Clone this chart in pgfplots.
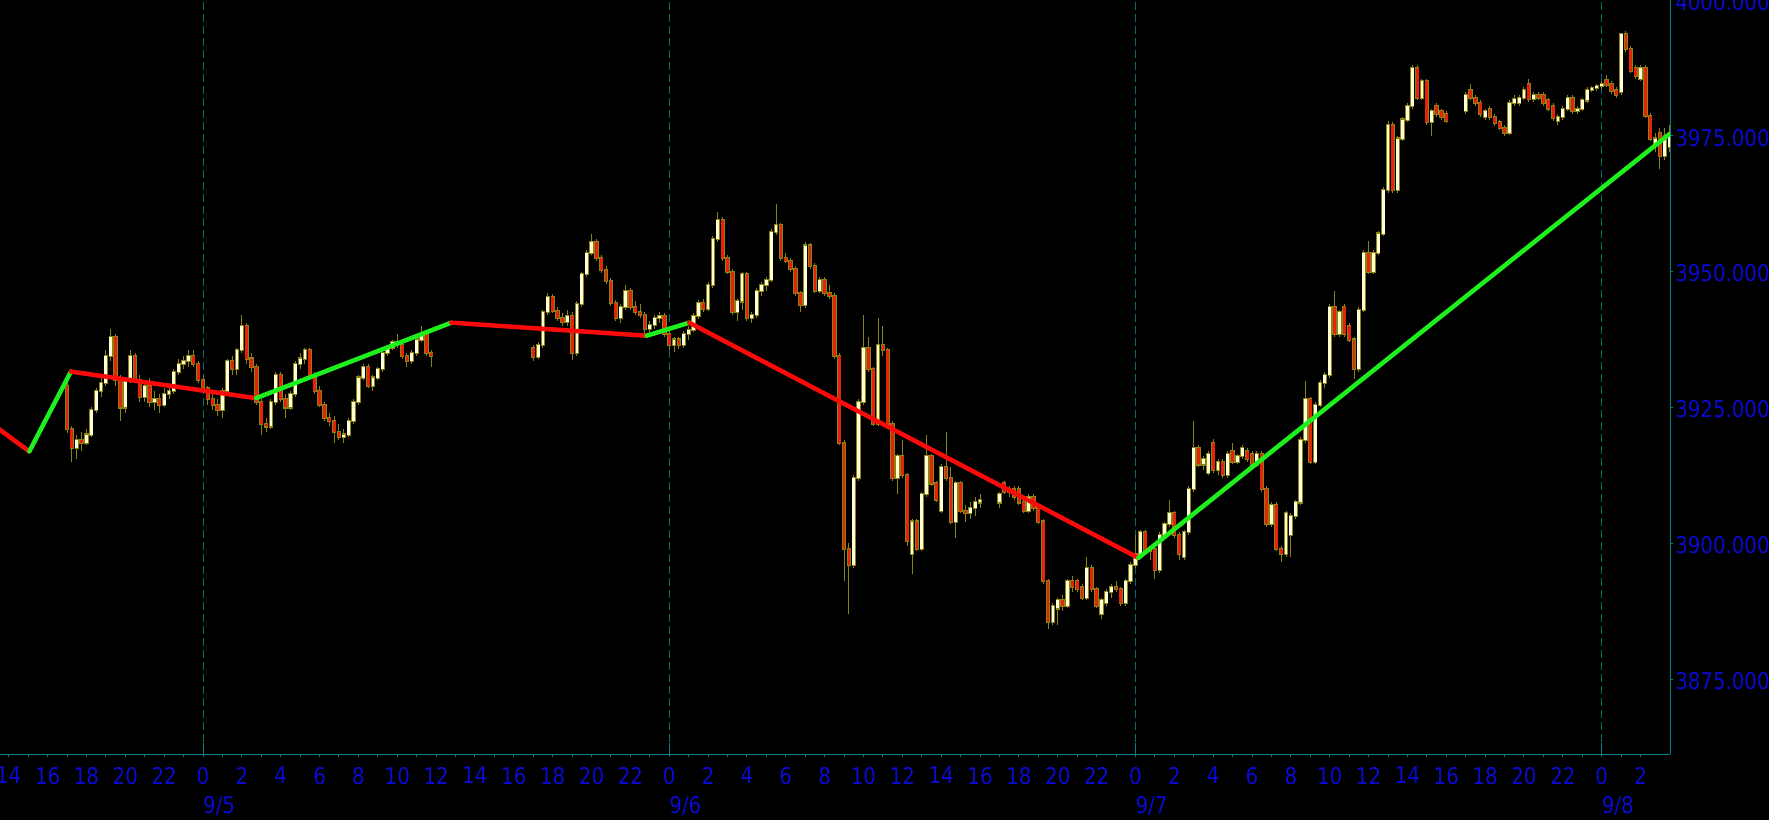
\documentclass[border=0pt]{standalone}
\usepackage{fontspec}
\usepackage{pgfplots}
\usepackage{pgfplotstable}
\pgfplotsset{compat=1.18}
\newfontfamily\lab[FakeStretch=0.86]{DejaVu Sans}
\newcommand\labfont{\lab\fontsize{23pt}{23pt}\selectfont}
\definecolor{labblue}{RGB}{10,10,210}
\definecolor{axteal}{RGB}{0,128,128}
\definecolor{gridteal}{RGB}{0,110,110}
\definecolor{wickol}{RGB}{140,130,20}
\definecolor{upfill}{RGB}{255,255,215}
\definecolor{dnfill}{RGB}{228,35,10}
\definecolor{zzred}{RGB}{250,10,10}
\definecolor{zzgreen}{RGB}{30,240,30}

\pgfplotstableread{
t o h l c
-7 3929 3929.8 3920.3 3921
-6.75 3921 3921.5 3915 3917.5
-6.5 3917.5 3920 3915.5 3919
-6.25 3919 3920.5 3917 3918.5
-6 3918.5 3921 3918 3920
-5.75 3920 3925 3919.5 3924.5
-5.5 3924.5 3928.5 3924 3928
-5.25 3928 3930.5 3927 3929.5
-5 3929.5 3935.5 3929 3934.5
-4.75 3934.5 3939.5 3933.5 3938
-4.5 3938 3938.5 3929 3930
-4.25 3930 3931 3922.5 3925
-4 3925 3930.5 3924 3930
-3.75 3930 3935.5 3929.5 3934.5
-3.5 3934.5 3935 3929.5 3930
-3.25 3930 3931 3926 3927
-3 3927 3930 3926 3929
-2.75 3929 3930.5 3925 3926
-2.5 3926 3928 3924.5 3926.5
-2.25 3926.5 3927.5 3924 3925.5
-2 3925.5 3928.5 3925 3927.5
-1.75 3927.5 3929.5 3926.5 3928
-1.5 3928 3932 3927.5 3931.5
-1.25 3931.5 3934 3931 3933
-1 3933 3934.5 3932 3933.5
-0.75 3933.5 3935.5 3932.5 3934.5
-0.5 3934.5 3935.5 3932.5 3933
-0.25 3933 3933.5 3929.5 3930
0 3930 3931 3928 3928.5
0.25 3928.5 3929 3925.5 3926.5
0.5 3926.5 3927.5 3924.5 3925.5
0.75 3925.5 3926.5 3923.5 3924.5
1 3924.5 3928.5 3923 3928
1.25 3928 3934 3927.5 3933.5
1.5 3933.5 3934.5 3931 3932
1.75 3932 3936 3931 3935.5
2 3935.5 3942 3935 3940
2.25 3940 3940.5 3933 3934
2.5 3934 3935 3931.5 3932.5
2.75 3932.5 3933 3925.5 3926
3 3926 3926.5 3920 3922
3.25 3922 3923 3920.5 3921.5
3.5 3921.5 3926.5 3921 3926
3.75 3926 3931.5 3925.5 3931
4 3931 3931.5 3926 3926.5
4.25 3926.5 3927.5 3923 3925
4.5 3925 3928 3924.5 3927.5
4.75 3927.5 3933.5 3927 3933
5 3933 3935 3932 3934
5.25 3934 3936 3933 3935.5
5.5 3935.5 3936 3930.5 3931
5.75 3931 3931.5 3927.5 3928
6 3928 3929 3925 3925.5
6.25 3925.5 3926 3922.5 3923
6.5 3923 3924 3921.5 3922.5
6.75 3922.5 3923.5 3918.5 3920.5
7 3920.5 3922 3919 3919.5
7.25 3919.5 3921 3918.5 3920
7.5 3920 3923 3919.5 3922.5
7.75 3922.5 3926.5 3922 3926
8 3926 3931 3925.5 3930.5
8.25 3930.5 3933 3930 3932.5
8.5 3932.5 3933 3928.5 3929
8.75 3929 3931 3928 3930.5
9 3930.5 3932.5 3930 3932
9.25 3932 3935.5 3931.5 3935
9.5 3935 3936.5 3934.5 3936
9.75 3936 3937.5 3935.5 3937
10 3937 3938.5 3936 3936.5
10.25 3936.5 3937 3934 3934.5
10.5 3934.5 3935 3932.5 3933.5
10.75 3933.5 3935.5 3933 3935
11 3935 3938 3934.5 3937.5
11.25 3937.5 3940 3937 3938.5
11.5 3938.5 3939 3934.5 3935
11.75 3935 3935.5 3932.5 3934.5
17 3936 3936.5 3933.6 3934.3
17.25 3934.3 3937 3934 3936.5
17.5 3936.5 3943 3936 3942.5
17.75 3942.5 3946 3942 3945.3
18 3945.3 3945.8 3942.3 3942.8
18.25 3942.8 3943.5 3941 3941.5
18.5 3941.5 3942.3 3940 3940.8
18.75 3940.8 3943 3940 3941.8
19 3941.8 3942.5 3933.8 3935
19.25 3935 3944.5 3934.5 3944
19.5 3944 3950 3943.5 3949.5
19.75 3949.5 3954 3949 3953.5
20 3953.5 3957 3953 3955.5
20.25 3955.5 3956 3952 3952.5
20.5 3952.5 3953 3949.8 3950.3
20.75 3950.3 3951 3947.8 3948.3
21 3948.3 3948.8 3943.7 3944.2
21.25 3944.2 3944.7 3941 3941.5
21.5 3941.5 3944 3940.5 3943.5
21.75 3943.5 3947.5 3943 3946.5
22 3946.5 3947 3943 3943.5
22.25 3943.5 3944.5 3942 3942.5
22.5 3942.5 3944 3941.5 3942
22.75 3942 3942.5 3938 3939.5
23 3939.5 3941 3938.5 3940.2
23.25 3940.2 3942 3939.5 3941.5
23.5 3941.5 3942.5 3940.5 3941.8
23.75 3941.8 3942.3 3938 3938.5
24 3938.5 3939 3935.5 3936.5
24.25 3936.5 3938 3935.2 3937.5
24.5 3937.5 3938 3935.8 3936.5
24.75 3936.5 3939 3936 3938.5
25 3938.5 3940 3937.5 3939.3
25.25 3939.3 3942.3 3938.8 3941.8
25.5 3941.8 3944.8 3941.3 3944.2
25.75 3944.2 3945 3942.5 3943.2
26 3943.2 3948 3942.7 3947.5
26.25 3947.5 3956.5 3947 3956
26.5 3956 3961 3955.5 3959.5
26.75 3959.5 3960 3952 3952.5
27 3952.5 3953 3949.5 3950
27.25 3950 3950.5 3942 3942.5
27.5 3942.5 3945 3941 3944.5
27.75 3944.5 3950 3943 3949.5
28 3949.5 3950 3941 3941.5
28.25 3941.5 3942.5 3940.5 3942
28.5 3942 3947 3941.5 3946.5
28.75 3946.5 3948 3945.5 3947.5
29 3947.5 3949 3946.5 3948.5
29.25 3948.5 3957.8 3948 3957.3
29.5 3957.3 3962.5 3956.8 3958.5
29.75 3958.5 3959 3952 3952.5
30 3952.5 3953.5 3951.5 3952
30.25 3952 3952.5 3950 3950.5
30.5 3950.5 3951 3945.5 3946
30.75 3946 3946.5 3942.5 3943.8
31 3943.8 3955.5 3943.3 3954.8
31.25 3954.8 3955.3 3950.5 3951
31.5 3951 3951.5 3946 3946.5
31.75 3946.5 3949 3946 3948.5
32 3948.5 3949 3945.5 3946
32.25 3946 3947.5 3945 3945.5
32.5 3945.5 3946 3934 3934.5
32.75 3934.5 3935 3918 3918.5
33 3918.5 3919 3893 3899
33.25 3899 3900 3887 3896
33.5 3896 3912.5 3895.5 3912
33.75 3912 3926.5 3911.5 3926
34 3926 3942 3925.5 3936
34.25 3936 3938 3931.5 3932
34.5 3932 3932.5 3921.5 3922
34.75 3922 3941.5 3921.5 3936.5
35 3936.5 3940 3934.5 3935.5
35.25 3935.5 3936 3921.5 3922
35.5 3922 3922.5 3911.5 3912
35.75 3912 3916.5 3909 3916
36 3916 3919 3912 3912.5
36.25 3912.5 3913 3899.5 3900.5
36.5 3898 3904.5 3894.3 3904
36.75 3904 3904.5 3898.5 3899
37 3899 3909.5 3898.5 3909
37.25 3909 3920 3908.5 3916
37.5 3916 3916.5 3910.5 3911
37.75 3911 3911.5 3907.5 3908
38 3906 3914.5 3905.5 3914
38.25 3914 3920.5 3911.5 3912
38.5 3912 3914 3903.5 3904
38.75 3904 3911.5 3901 3911
39 3911 3911.5 3905.5 3906
39.25 3906 3907 3904 3905.5
39.5 3905.5 3907.5 3904.5 3906.5
39.75 3906.5 3908.5 3905 3907.5
40 3907.5 3909 3906.5 3908
41 3907.5 3909.5 3906.5 3909
41.25 3911 3911.5 3909 3909.5
41.5 3909.5 3910.5 3908.5 3910
41.75 3910 3910.5 3908 3908.5
42 3910 3910.5 3907 3907.5
42.25 3907.5 3908 3905.5 3906
42.5 3906 3909 3905.5 3908.5
42.75 3908.5 3909 3906 3906.5
43 3906.5 3907 3903.5 3904
43.25 3904 3904.5 3892.5 3893
43.5 3893 3893.5 3884.2 3885.5
43.75 3885.5 3889 3885 3888.5
44 3888 3890 3885 3889.5
44.25 3889.5 3890.5 3887.5 3888.5
44.5 3888.5 3893.5 3888 3893
44.75 3893 3894 3891 3892
45 3893 3893.5 3891 3891.5
45.25 3892 3892.5 3889.5 3890
45.5 3890 3897.5 3889.5 3895.5
45.75 3895.5 3896 3891 3891.5
46 3891.5 3892 3888 3888.5
46.25 3887 3890 3886 3889.5
46.5 3889 3891.5 3888.5 3891
46.75 3891 3892.5 3890 3892
47 3892 3893 3891 3891.5
47.25 3891.5 3892 3888.5 3889
47.5 3889 3893.5 3888.5 3893
47.75 3893 3896.5 3892.5 3896
48 3896 3901.5 3895.5 3898
48.25 3898 3902.5 3897.5 3902
48.5 3902 3902.5 3898 3898.5
48.75 3898.5 3899.5 3897 3899
49 3899 3899.5 3893.5 3895
49.25 3895 3902 3894.5 3901.5
49.5 3901.5 3904 3901 3903.5
49.75 3903.5 3908 3903 3905.5
50 3905.5 3906 3901 3901.5
50.25 3901.5 3902 3897 3898
50.5 3897.5 3902.5 3897 3902
50.75 3902 3910.5 3901.5 3910
51 3910 3922.5 3909.5 3917.5
51.25 3917.5 3918 3914 3914.5
51.5 3914.5 3916 3913.5 3915.5
51.75 3913 3917 3912.5 3916.5
52 3918.5 3919.1 3913 3913.5
52.25 3913.5 3915.5 3912.5 3915
52.5 3915 3915.5 3912 3912.5
52.75 3912.5 3917 3912 3916.5
53 3917 3918.5 3914.5 3915
53.25 3915 3916.5 3914.5 3916
53.5 3916 3918 3915.5 3917.5
53.75 3917 3917.5 3915 3915.5
54 3916.5 3917 3914 3914.5
54.25 3914.5 3917 3914 3916.5
54.5 3916.5 3917 3909.5 3910
54.75 3910 3910.5 3903 3903.5
55 3903.5 3907.5 3903 3907
55.25 3907 3907.5 3898.5 3899
55.5 3899 3899.5 3896.5 3898
55.75 3898 3906 3897.5 3905.5
56 3901.5 3905.5 3897.5 3905
56.25 3905 3908 3904.5 3907.5
56.5 3907.5 3919.5 3907 3919
56.75 3919 3929.8 3918.5 3926.5
57 3926.5 3927 3914.5 3915
57.25 3915 3926 3914.5 3925.5
57.5 3925.5 3930 3925 3929.5
57.75 3929.5 3931.5 3928.5 3931
58 3931 3944 3930.5 3943.5
58.25 3943.5 3946.4 3938 3938.5
58.5 3938.5 3943 3938 3942.5
58.75 3943.5 3944 3938 3938.5
59 3940 3940.5 3937 3937.5
59.25 3937.5 3938 3930.2 3932
59.5 3932 3943.5 3931.5 3943
59.75 3943 3954 3942.5 3953.5
60 3953.5 3955.7 3949.5 3950
60.25 3950 3954 3949.5 3953.5
60.5 3953.5 3957.5 3953 3957
60.75 3957 3965.5 3956.5 3965
61 3965 3977.8 3964.5 3977
61.25 3977 3977.5 3964.5 3965
61.5 3965 3975 3964.5 3974.5
61.75 3974.5 3978.5 3974 3978
62 3978 3981 3977.5 3980.5
62.25 3980.5 3988 3980 3987.5
62.5 3987.5 3988 3981.5 3982
62.75 3982 3985.5 3981.5 3985
63 3985 3985.5 3977 3977.5
63.25 3977.5 3980 3975 3979.5
63.5 3980.5 3981 3978.5 3979
63.75 3979.5 3980 3978 3978.5
64 3979 3979.5 3977.3 3977.8
65 3979.5 3983 3979 3982.5
65.25 3983.5 3984.5 3981.5 3982
65.5 3982 3982.5 3980.5 3981
65.75 3981 3981.5 3978.5 3979
66 3978.5 3980 3978 3979.5
66.25 3980 3980.5 3978 3978.5
66.5 3978.5 3979 3976.8 3977.3
66.75 3977.5 3978 3976 3976.5
67 3976.5 3977 3975 3975.6
67.25 3975.6 3981.5 3975.2 3981
67.5 3981 3982.5 3980.5 3981.8
67.75 3981 3982.5 3980.5 3982
68 3982 3984 3981.5 3983.5
68.25 3984.5 3985.5 3981.3 3981.8
68.5 3981.8 3983 3981.3 3982.5
68.75 3982.5 3983 3981.5 3982
69 3982.5 3983 3980.5 3981
69.25 3981.5 3982 3979.5 3980
69.5 3980.5 3981 3977.8 3978.3
69.75 3977.8 3979 3977 3978.5
70 3978.5 3980.5 3978 3980
70.25 3980 3982.5 3979.5 3982
70.5 3982 3982.5 3979 3979.5
70.75 3979.5 3980.5 3979 3980
71 3980 3982 3979.5 3981.5
71.25 3981.5 3984 3981 3983.5
71.5 3983.5 3984.2 3983 3983.8
71.75 3983.8 3984.5 3983.3 3984.2
72 3984.2 3985 3983.7 3984.6
72.25 3985.3 3986.2 3984 3984.3
72.5 3984.5 3985 3982.7 3983.2
72.75 3983.5 3984 3982 3982.5
73 3983 3994 3982.5 3993.7
73.25 3993.7 3994.3 3990.5 3991
73.5 3991 3991.5 3986.5 3987
73.75 3987.5 3988 3985.5 3986
74 3985.5 3988 3985 3987.5
74.25 3987.5 3988 3978.2 3978.7
74.5 3978.7 3979.2 3974 3974.5
74.75 3973.5 3975.5 3972 3974.5
75 3975.5 3976.5 3968.8 3971.3
75.25 3971.3 3976.5 3970.5 3975
75.5 3973 3977 3972 3975.5
}\candles

\begin{document}
\begin{tikzpicture}
\fill[black] (0pt,-66pt) rectangle (1769pt,754pt);
\begin{axis}[
  at={(0pt,0pt)}, anchor=south west,
  scale only axis, width=1670pt, height=754pt,
  xmin=-10.45, xmax=75.52, ymin=3861.2, ymax=4000,
  axis x line*=bottom, axis y line*=right,
  axis line style={axteal, line width=1pt, -},
  xtick={-10,-8,...,74},
  xticklabels={14,16,18,20,22,0,2,4,6,8,10,12,14,16,18,20,22,0,2,4,6,8,10,12,14,16,18,20,22,0,2,4,6,8,10,12,14,16,18,20,22,0,2},
  minor x tick num=1,
  ytick={3875,3900,3925,3950,3975,4000},
  yticklabels={3875.000,3900.000,3925.000,3950.000,3975.000,4000.000},
  tick style={axteal, line width=1pt},
  tick align=outside,
  major tick length=3pt, minor tick length=3pt,
  extra x ticks={0,24,48,72},
  extra x tick labels={},
  extra x tick style={grid=major, major grid style={gridteal, dash pattern=on 8pt off 4pt, line width=1pt}, tick align=inside, major tick length=11pt},
  xticklabel style={font=\labfont, text=labblue, anchor=north, inner sep=0pt, yshift=-10pt},
  yticklabel style={font=\labfont, text=labblue, anchor=west, inner sep=0pt, xshift=2pt, yshift=-2pt},
  clip=true,
  unbounded coords=discard,
]
% wicks
\addplot[draw=none, mark=none, error bars/.cd, y dir=plus, y explicit, error mark=none,
  error bar style={wickol, line width=1pt}]
  table[x=t, y=l, y error expr=\thisrow{h}-\thisrow{l}] {\candles};
% up bodies
\addplot[draw=none, mark=none, error bars/.cd, y dir=plus, y explicit, error mark=none,
  error bar style={wickol, line width=4.3pt}]
  table[x=t, y expr={\thisrow{c}>=\thisrow{o} ? \thisrow{o}-0.2 : nan}, y error expr=\thisrow{c}-\thisrow{o}+0.4] {\candles};
\addplot[draw=none, mark=none, error bars/.cd, y dir=plus, y explicit, error mark=none,
  error bar style={upfill, line width=2.8pt}]
  table[x=t, y expr={\thisrow{c}>=\thisrow{o} ? \thisrow{o} : nan}, y error expr=\thisrow{c}-\thisrow{o}] {\candles};
% down bodies
\addplot[draw=none, mark=none, error bars/.cd, y dir=plus, y explicit, error mark=none,
  error bar style={wickol, line width=4.3pt}]
  table[x=t, y expr={\thisrow{c}<\thisrow{o} ? \thisrow{c}-0.2 : nan}, y error expr=\thisrow{o}-\thisrow{c}+0.4] {\candles};
\addplot[draw=none, mark=none, error bars/.cd, y dir=plus, y explicit, error mark=none,
  error bar style={dnfill, line width=2.8pt}]
  table[x=t, y expr={\thisrow{c}<\thisrow{o} ? \thisrow{c} : nan}, y error expr=\thisrow{o}-\thisrow{c}] {\candles};
% zigzag
\addplot[zzred, line width=4.5pt, line cap=round] coordinates {(-10.8,3921.8) (-8.94,3916.9)};
\addplot[zzgreen, line width=4.5pt, line cap=round] coordinates {(-8.94,3916.9) (-6.80,3931.6)};
\addplot[zzred, line width=4.5pt, line cap=round] coordinates {(-6.80,3931.6) (2.73,3926.7)};
\addplot[zzgreen, line width=4.5pt, line cap=round] coordinates {(2.73,3926.7) (12.78,3940.6)};
\addplot[zzred, line width=4.5pt, line cap=round] coordinates {(12.78,3940.6) (22.84,3938.2)};
\addplot[zzgreen, line width=4.5pt, line cap=round] coordinates {(22.84,3938.2) (25.03,3940.6)};
\addplot[zzred, line width=4.5pt, line cap=round] coordinates {(25.03,3940.6) (48.15,3897.3)};
\addplot[zzgreen, line width=4.5pt, line cap=round] coordinates {(48.15,3897.3) (75.48,3975.3)};
\coordinate (d0) at (axis cs:0,3861.2);
\coordinate (d1) at (axis cs:24,3861.2);
\coordinate (d2) at (axis cs:48,3861.2);
\coordinate (d3) at (axis cs:72,3861.2);
\end{axis}
\foreach \p/\t in {d0/9\slash 5,d1/9\slash 6,d2/9\slash 7,d3/9\slash 8}
  \node[anchor=north west, inner sep=0pt, font=\labfont, text=labblue] at ([yshift=-42pt]\p) {\t};
\pgfresetboundingbox
\useasboundingbox (0pt,-66pt) rectangle (1769pt,754pt);
\end{tikzpicture}
\end{document}
